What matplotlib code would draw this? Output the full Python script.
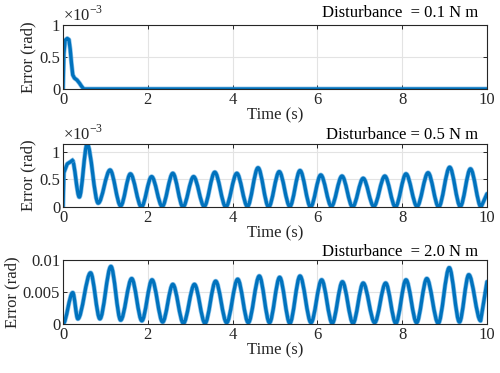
import matplotlib
matplotlib.use("Agg")
import matplotlib.pyplot as plt
from matplotlib.path import Path
from matplotlib.patches import PathPatch

# --- data (time in s, error in rad) ---
# 0.1 N m: transient only
t_01 = [0, 0.02, 0.05, 0.1, 0.14, 0.17, 0.2, 0.23, 0.27, 0.33, 0.39, 0.44, 0.49, 10]
err_01 = [0, 0.55, 0.76, 0.79, 0.77, 0.62, 0.4, 0.22, 0.17, 0.14, 0.09, 0.04, 0.0, 0.0]  # x1e-3

# 0.5 N m: start of the transient, then peaks / troughs of the oscillation
t_05_start = [0, 0.02, 0.1, 0.22]
err_05_start = [0, 0.62, 0.78, 0.84]  # x1e-3
t_05 = [0.22, 0.385, 0.57, 0.83, 1.11, 1.36, 1.59, 1.85, 2.09, 2.34, 2.59,
        2.83, 3.08, 3.33, 3.58, 3.84, 4.10, 4.35, 4.60, 4.85, 5.10, 5.35, 5.59, 5.84,
        6.08, 6.33, 6.58, 6.83, 7.08, 7.33, 7.59, 7.84, 8.09, 8.35, 8.61, 8.86, 9.12,
        9.37, 9.61, 9.86, 10.0]
err_05 = [0.84, 0.18, 1.14, 0.07, 0.67, 0.02, 0.60, 0.0, 0.55, 0.01, 0.61,
          0.0, 0.55, 0.01, 0.63, 0.0, 0.61, 0.01, 0.71, 0.0, 0.64, 0.01, 0.66, 0.0,
          0.58, 0.01, 0.56, 0.0, 0.52, 0.01, 0.56, 0.0, 0.60, 0.01, 0.62, 0.0, 0.72,
          0.01, 0.69, 0.0, 0.24]  # x1e-3

# 2.0 N m: peaks / troughs of the oscillation
t_20 = [0, 0.23, 0.35, 0.65, 0.87, 1.13, 1.36, 1.62, 1.86, 2.10, 2.35, 2.59, 2.84, 3.10,
        3.35, 3.60, 3.86, 4.12, 4.37, 4.63, 4.87, 5.11, 5.35, 5.59, 5.85, 6.10, 6.35,
        6.59, 6.84, 7.08, 7.35, 7.61, 7.85, 8.09, 8.34, 8.58, 8.85, 9.11, 9.35, 9.57,
        9.85, 10.0]
err_20 = [0, 0.0049, 0.0008, 0.0080, 0.0008, 0.0090, 0.0006, 0.0071, 0.0005, 0.0069,
          0.0003, 0.0062, 0.0001, 0.0062, 0.0001, 0.0067, 0.0002, 0.0070, 0.0002,
          0.0075, 0.0002, 0.0073, 0.0001, 0.0075, 0.0002, 0.0069, 0.0001, 0.0066,
          0.0001, 0.0064, 0.0002, 0.0064, 0.0001, 0.0069, 0.0002, 0.0071, 0.0001,
          0.0088, 0.0003, 0.0077, 0.0005, 0.0066]

titles = ["Disturbance  = 0.1 N m", "Disturbance = 0.5 N m", "Disturbance  = 2.0 N m"]
yticks = [[0, 0.5, 1], [0, 0.5, 1], [0, 0.005, 0.01]]
yticklabels = [["0", "0.5", "1"], ["0", "0.5", "1"], ["0", "0.005", "0.01"]]
ylims = [(0, 1), (0, 1.14), (0, 0.01)]
xticks = [0, 2, 4, 6, 8, 10]

plt.rcParams['font.family'] = ['Liberation Serif', 'DejaVu Serif']
plt.rcParams['mathtext.fontset'] = 'custom'
plt.rcParams['mathtext.rm'] = 'Liberation Serif'
plt.rcParams['font.size'] = 12

dark = '#262626'
blue = '#0072BD'
halo = '#5aa8e0'


def smooth_path(t, v):
    """Bezier curve through the extrema, flat at each peak/trough (last piece straight)."""
    verts = [(t[0], v[0])]
    codes = [Path.MOVETO]
    n = len(t)
    for k in range(n - 1):
        dt = t[k + 1] - t[k]
        if k == n - 2:
            c1 = (t[k] + dt / 3, v[k] + (v[k + 1] - v[k]) / 3)
            c2 = (t[k] + 2 * dt / 3, v[k] + 2 * (v[k + 1] - v[k]) / 3)
        else:
            c1 = (t[k] + dt / 3, v[k])
            c2 = (t[k + 1] - dt / 3, v[k + 1])
        verts += [c1, c2, (t[k + 1], v[k + 1])]
        codes += [Path.CURVE4] * 3
    return Path(verts, codes)


def draw_curve(ax, t, v):
    for col, lw, a in [(halo, 3.4, 0.7), (blue, 2.4, 1.0)]:
        ax.add_patch(PathPatch(smooth_path(t, v), fill=False, edgecolor=col,
                               lw=lw, alpha=a, joinstyle='round', capstyle='round'))


fig = plt.figure(figsize=(5, 3.73), dpi=100)
boxes = [[0.126, 0.7614, 0.848, 0.1716],
         [0.126, 0.445, 0.848, 0.169],
         [0.126, 0.1314, 0.848, 0.1716]]
title_y = [1.19, 1.15, 1.12]

axes = [fig.add_axes(b) for b in boxes]

# top: plain line through the read points
for col, lw, a in [(halo, 3.4, 0.7), (blue, 2.4, 1.0)]:
    axes[0].plot(t_01, err_01, color=col, lw=lw, alpha=a, solid_joinstyle='round')
# middle: transient start as line, oscillation as smooth curve
for col, lw, a in [(halo, 3.4, 0.7), (blue, 2.4, 1.0)]:
    axes[1].plot(t_05_start, err_05_start, color=col, lw=lw, alpha=a,
                 solid_joinstyle='round')
draw_curve(axes[1], t_05, err_05)
# bottom
draw_curve(axes[2], t_20, err_20)

for i, ax in enumerate(axes):
    ax.set_xlim(0, 10)
    ax.set_ylim(*ylims[i])
    ax.set_xticks(xticks)
    ax.set_yticks(yticks[i])
    ax.set_yticklabels(yticklabels[i])
    ax.grid(True, color='#e3e3e3', lw=0.8)
    ax.set_axisbelow(True)
    ax.tick_params(direction='in', top=True, right=True, length=3,
                   width=0.7, colors=dark, labelsize=12, pad=2)
    for sp in ax.spines.values():
        sp.set_color(dark)
        sp.set_linewidth(0.8)
    ax.set_xlabel("Time (s)", color=dark, labelpad=0)
    ax.set_ylabel("Error (rad)", color=dark, labelpad=2)
    ax.text(0.98, title_y[i], titles[i], transform=ax.transAxes,
            ha='right', va='center', color='black', fontsize=12)
    if i < 2:
        ax.text(0.0, 1.01, r"$\times 10^{-3}$", transform=ax.transAxes,
                ha='left', va='bottom', color=dark, fontsize=12)

fig.savefig("out.png", dpi=100)
